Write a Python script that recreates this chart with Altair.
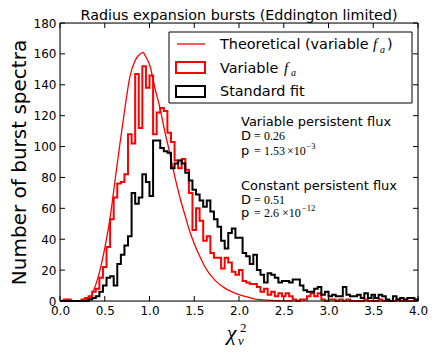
import altair as alt
import pandas as pd

# ---------------- data ----------------
BIN_WIDTH = 0.04  # histogram bins from 0.0 to 4.0

VARIABLE_FA = [0, 1, 1, 0, 0, 0, 1, 2, 3, 6,
               8, 15, 22, 35, 53, 67, 76, 77, 82, 108,
               102, 147, 112, 152, 138, 146, 108, 122, 125, 123,
               109, 103, 91, 86, 92, 85, 70, 46, 60, 52,
               39, 42, 31, 28, 28, 21, 28, 25, 19, 17,
               20, 13, 12, 11, 11, 9, 6, 8, 4, 6,
               3, 5, 3, 5, 3, 1, 0, 1, 1, 3,
               5, 3, 5, 1, 0, 1, 1, 0, 1, 0,
               1, 0, 0, 0, 0, 1, 0, 0, 0, 1,
               0, 0, 0, 0, 1, 0, 0, 0, 0, 0]

STANDARD_FIT = [0, 0, 0, 0, 0, 0, 0, 0, 1, 2,
                3, 6, 10, 15, 16, 10, 24, 30, 36, 42,
                70, 63, 67, 82, 77, 68, 104, 104, 99, 97,
                96, 86, 89, 91, 89, 83, 78, 72, 69, 65,
                61, 65, 58, 53, 48, 39, 34, 44, 47, 41,
                41, 31, 29, 24, 30, 20, 17, 12, 18, 17,
                15, 12, 13, 13, 12, 14, 14, 10, 7, 6,
                6, 8, 9, 4, 6, 3, 4, 3, 3, 9,
                4, 3, 3, 4, 2, 5, 2, 4, 2, 4,
                3, 1, 0, 3, 1, 2, 1, 2, 2, 1]

THEORY_X = [0.20, 0.25, 0.30, 0.335, 0.39, 0.447, 0.503, 0.56, 0.615, 0.67,
            0.726, 0.78, 0.838, 0.894, 0.93, 0.95, 1.006, 1.06, 1.117, 1.17,
            1.23, 1.285, 1.34, 1.397, 1.45, 1.508, 1.564, 1.62, 1.73, 1.85,
            1.96, 2.10, 2.20, 2.40, 2.60]
THEORY_Y = [0, 0.3, 1, 2, 9, 20, 35, 54, 78, 102,
            125, 145, 155.5, 160, 161, 159, 152, 138, 125, 110,
            95, 80, 67, 55.5, 45, 36, 28.6, 22, 13.5, 8,
            5, 2.5, 1, 0.3, 0]

X_TICKS = [0.0, 0.5, 1.0, 1.5, 2.0, 2.5, 3.0, 3.5, 4.0]
Y_TICKS = [0, 20, 40, 60, 80, 100, 120, 140, 160, 180]

TITLE = "Radius expansion bursts (Eddington limited)"
Y_TITLE = "Number of burst spectra"

# ---------------- layout ----------------
W, H = 358, 278
TOP = 15
SANS = "DejaVu Sans"
SERIF = "Liberation Serif"


def step_frame(counts):
    n = len(counts)
    xs, ys = [0.0], [0]
    for i, c in enumerate(counts):
        xs.append(round(i * BIN_WIDTH, 4))
        ys.append(c)
    xs += [round(n * BIN_WIDTH, 4)] * 2
    ys += [counts[-1], 0]
    return pd.DataFrame({"x": xs, "y": ys, "i": list(range(len(xs)))})


xscale = alt.Scale(domain=[0, 4], nice=False, zero=False)
yscale = alt.Scale(domain=[0, 180], nice=False)
xaxis = alt.Axis(values=X_TICKS, format=".1f", labelFontSize=12, labelFont=SANS,
                 labelColor="black", domain=False, ticks=False, tickSize=0, grid=False,
                 title=None, labelPadding=4, labelFlush=False)
yaxis = alt.Axis(values=Y_TICKS, labelFontSize=12, labelFont=SANS, labelColor="black",
                 domain=False, ticks=False, tickSize=0, grid=False, labelPadding=4,
                 title=Y_TITLE, titleFontSize=20, titleFont=SANS, titleFontWeight="normal",
                 titleColor="black", titlePadding=4)
X = alt.X("x:Q", scale=xscale, axis=xaxis)
Y = alt.Y("y:Q", scale=yscale, axis=yaxis)

one = pd.DataFrame({"a": [0]})

theory = alt.Chart(pd.DataFrame({"x": THEORY_X, "y": THEORY_Y})).mark_line(
    color="red", strokeWidth=1.3, interpolate="monotone").encode(x=X, y=Y)

hist_red = alt.Chart(step_frame(VARIABLE_FA)).mark_line(
    color="red", strokeWidth=2, interpolate="step-after").encode(x=X, y=Y, order="i:Q")
hist_black = alt.Chart(step_frame(STANDARD_FIT)).mark_line(
    color="black", strokeWidth=2, interpolate="step-after").encode(x=X, y=Y, order="i:Q")

xt = pd.DataFrame({"x": X_TICKS})
yt = pd.DataFrame({"y": Y_TICKS})
tick_b = alt.Chart(xt).mark_rule(color="black").encode(x=X, y=alt.value(H), y2=alt.value(H - 5))
tick_t = alt.Chart(xt).mark_rule(color="black").encode(x=X, y=alt.value(0), y2=alt.value(5))
tick_l = alt.Chart(yt).mark_rule(color="black").encode(y=Y, x=alt.value(0), x2=alt.value(5))
tick_r = alt.Chart(yt).mark_rule(color="black").encode(y=Y, x=alt.value(W), x2=alt.value(W - 5))

frame = alt.Chart(one).mark_rect(fillOpacity=0, stroke="black", strokeWidth=1).encode(
    x=alt.value(0), x2=alt.value(W), y=alt.value(0), y2=alt.value(H))


def rect(x1, x2, y1, y2, fill, stroke, sw):
    return alt.Chart(one).mark_rect(fill=fill, stroke=stroke, strokeWidth=sw).encode(
        x=alt.value(x1), x2=alt.value(x2), y=alt.value(y1), y2=alt.value(y2))


def txt(s, x, y, size, font=SANS, style="normal", align="left"):
    return alt.Chart(one).mark_text(
        text=s, fontSize=size, font=font, fontStyle=style, align=align,
        baseline="alphabetic", color="black").encode(x=alt.value(x), y=alt.value(y))


title = txt(TITLE, W / 2, -3.5, 14.3, SANS, "normal", "center")

# legend
d = -1
leg_box = rect(109, 352, 10 + d, 81 + d, "white", "black", 1)
leg_line = alt.Chart(one).mark_rule(color="red", strokeWidth=1.3).encode(
    x=alt.value(117), x2=alt.value(145), y=alt.value(22 + d))
leg_red = rect(116, 145, 40 + d, 51 + d, "white", "red", 2)
leg_black = rect(116, 145, 64 + d, 75 + d, "white", "black", 2)
LS = 14.4
legend = [
    leg_box, leg_line, leg_red, leg_black,
    txt("Theoretical (variable", 160, 27 + d, LS),
    txt("f", 313, 27 + d, 15, SERIF, "italic"),
    txt("a", 320, 30.5 + d, 10, SERIF, "italic"),
    txt(")", 327, 27 + d, LS),
    txt("Variable", 160, 50.5 + d, LS),
    txt("f", 224, 50.5 + d, 15, SERIF, "italic"),
    txt("a", 231, 54 + d, 10, SERIF, "italic"),
    txt("Standard fit", 160, 74 + d, LS),
]

# annotations
AS = 13
NS = 12
notes = [
    txt("Variable persistent flux", 181, 104 + d, AS),
    txt("D", 181, 117.5 + d, AS), txt("=", 194, 117.5 + d, NS, SERIF), txt("0.26", 204, 117.5 + d, NS, SERIF),
    txt("p", 181, 132.5 + d, AS), txt("=", 194, 132.5 + d, NS, SERIF), txt("1.53", 204, 132.5 + d, NS, SERIF),
    txt("×10", 227, 132.5 + d, NS, SERIF), txt("−3", 246.5, 126.5 + d, 8.5, SERIF),
    txt("Constant persistent flux", 181, 168 + d, AS),
    txt("D", 181, 182 + d, AS), txt("=", 194, 182 + d, NS, SERIF), txt("0.51", 204, 182 + d, NS, SERIF),
    txt("p", 181, 195 + d, AS), txt("=", 194, 195 + d, NS, SERIF), txt("2.6", 204, 195 + d, NS, SERIF),
    txt("×10", 222, 195 + d, NS, SERIF), txt("−12", 242, 188.5 + d, 8.5, SERIF),
]

# x-axis title  chi^2_nu
xtitle = [
    txt("χ", 171.5, 318 + d, 22, SERIF, "italic", "center"),
    txt("2", 180, 310 + d, 13, SERIF),
    txt("ν", 178, 323 + d, 13, SERIF, "italic"),
]

chart = alt.layer(
    theory, hist_red, hist_black, tick_b, tick_t, tick_l, tick_r, frame,
    title, *legend, *notes, *xtitle
).properties(
    width=W, height=H,
    autosize=alt.AutoSizeParams(type="none"),
    padding={"left": 52, "top": TOP, "right": 10, "bottom": 46},
).configure_view(strokeWidth=0).configure(background="white")

chart.save("out.html", embed_options={"renderer": "svg", "actions": False})
